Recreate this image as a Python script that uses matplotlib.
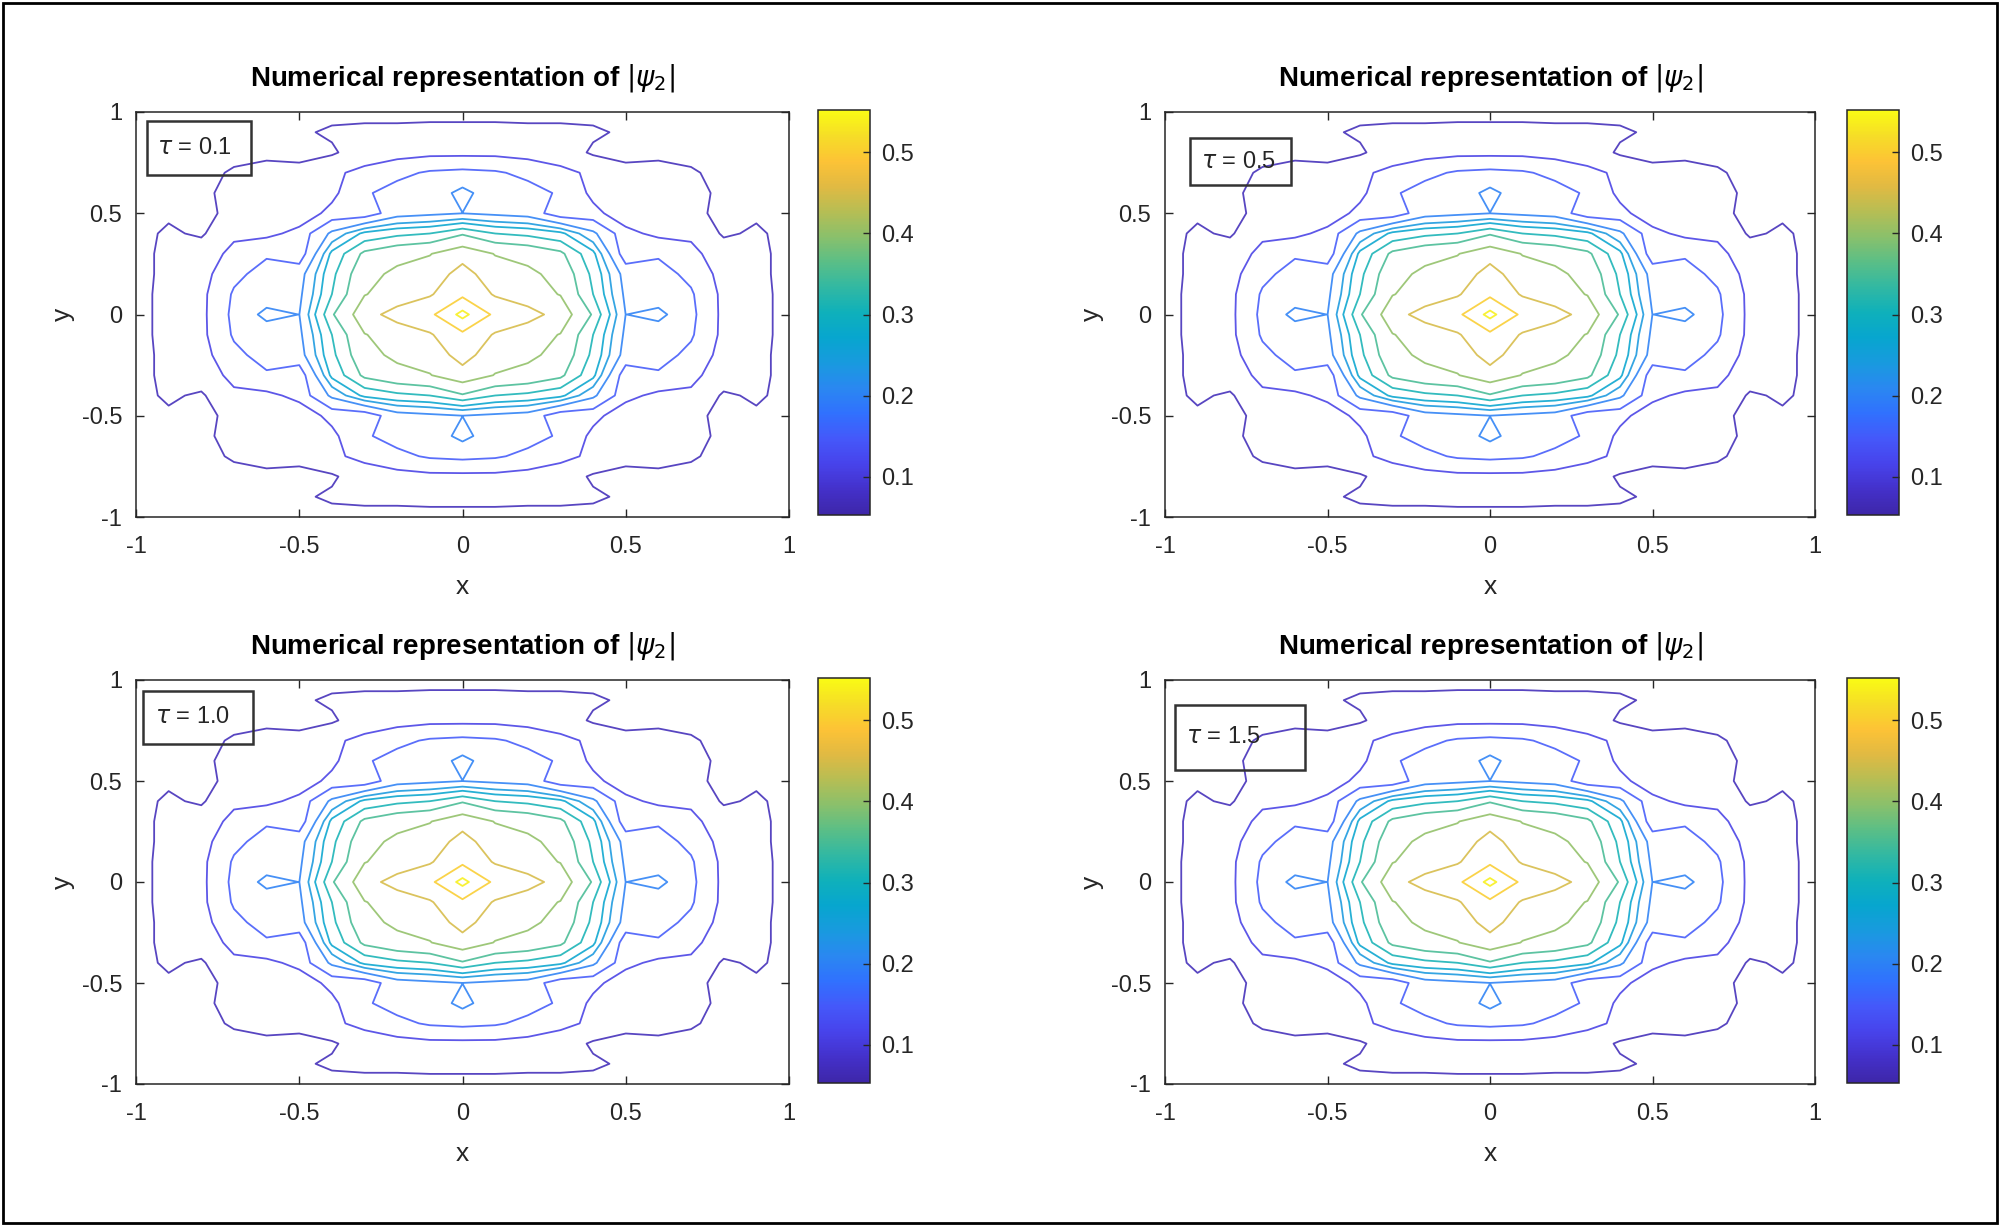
import numpy as np
import matplotlib
matplotlib.use("Agg")
import matplotlib.pyplot as plt
from matplotlib.colors import LinearSegmentedColormap, Normalize
from matplotlib.patches import Rectangle
import matplotlib.cm as cm

# ---------------- data ----------------
# grid nodes of one quadrant (x >= 0, y >= 0); the field is mirrored to the others
GRID = [0.0, 0.1, 0.2, 0.3, 0.4, 0.5, 0.6, 0.7, 0.8, 0.9, 1.0]

PSI_QUARTER = [
    [0.552, 0.491, 0.470, 0.430, 0.345, 0.1995, 0.215, 0.160, 0.100, 0.080, 0.060],
    [0.491, 0.445, 0.420, 0.398, 0.310, 0.190, 0.170, 0.155, 0.100, 0.080, 0.060],
    [0.470, 0.420, 0.410, 0.385, 0.300, 0.180, 0.165, 0.140, 0.095, 0.078, 0.060],
    [0.430, 0.398, 0.385, 0.360, 0.280, 0.120, 0.145, 0.120, 0.090, 0.078, 0.060],
    [0.345, 0.310, 0.300, 0.280, 0.210, 0.120, 0.101, 0.103, 0.065, 0.075, 0.060],
    [0.1995, 0.190, 0.180, 0.120, 0.120, 0.090, 0.088, 0.080, 0.060, 0.065, 0.055],
    [0.215, 0.170, 0.165, 0.145, 0.101, 0.088, 0.080, 0.085, 0.060, 0.060, 0.055],
    [0.160, 0.155, 0.140, 0.120, 0.103, 0.080, 0.085, 0.074, 0.060, 0.055, 0.053],
    [0.100, 0.100, 0.095, 0.090, 0.065, 0.060, 0.060, 0.060, 0.055, 0.053, 0.053],
    [0.080, 0.080, 0.078, 0.078, 0.075, 0.065, 0.060, 0.055, 0.053, 0.053, 0.053],
    [0.060, 0.060, 0.060, 0.060, 0.060, 0.055, 0.055, 0.053, 0.053, 0.053, 0.053],
]

LEVELS = [0.07, 0.11, 0.15, 0.20, 0.24, 0.27, 0.31, 0.35, 0.40, 0.45, 0.50, 0.54]
COLOR_LIMITS = (0.053, 0.552)
TAUS = ["0.1", "0.5", "1.0", "1.5"]
AXIS_TICKS = [-1, -0.5, 0, 0.5, 1]
AXIS_TICK_LABELS = ["-1", "-0.5", "0", "0.5", "1"]
CBAR_TICKS = [0.1, 0.2, 0.3, 0.4, 0.5]
CBAR_TICK_LABELS = ["0.1", "0.2", "0.3", "0.4", "0.5"]
TITLE = r"Numerical representation of $|\psi_2|$"

# ---------------- style ----------------
PARULA = [
    (0.2422, 0.1504, 0.6603), (0.2647, 0.1910, 0.7930), (0.2804, 0.2627, 0.9227),
    (0.2681, 0.3456, 0.9786), (0.1906, 0.4420, 0.9959), (0.1647, 0.5316, 0.9446),
    (0.0968, 0.6048, 0.8734), (0.0279, 0.6497, 0.8112), (0.0579, 0.6919, 0.7323),
    (0.1926, 0.7219, 0.6380), (0.3544, 0.7468, 0.5273), (0.5399, 0.7528, 0.4210),
    (0.7141, 0.7438, 0.3288), (0.8821, 0.7275, 0.2603), (0.9914, 0.7640, 0.2120),
    (0.9636, 0.8674, 0.1516), (0.9769, 0.9839, 0.0805),
]
parula = LinearSegmentedColormap.from_list("parula", PARULA, N=256)
norm = Normalize(*COLOR_LIMITS)
TXT = (0.15, 0.15, 0.15)
plt.rcParams["font.family"] = ["Liberation Sans", "DejaVu Sans"]
plt.rcParams["mathtext.fontset"] = "dejavusans"

# ---------------- build field ----------------
q = np.array(PSI_QUARTER)
g = np.array(GRID)
coords = np.concatenate([-g[:0:-1], g])
Z = np.vstack([q[:0:-1], q])
Z = np.hstack([Z[:, :0:-1], Z])

W, H = 2000, 1226
fig = plt.figure(figsize=(W / 100, H / 100), dpi=100)

def fx(px):
    return px / W

def fy(py):
    return 1 - py / H

# axes pixel boxes: (left, top, right, bottom)
AX_BOX = [(136, 112, 789, 517), (1165, 112, 1815, 517),
          (136, 680, 789, 1084), (1165, 680, 1815, 1084)]
CB_BOX = [(818, 110, 870, 515), (1847, 110, 1899, 515),
          (818, 678, 870, 1083), (1847, 678, 1899, 1083)]
TAU_BOX = [(147, 121, 251, 175), (1190, 138, 1291, 185),
           (143, 691, 253, 744), (1175, 705, 1305, 770)]
TAU_TXT = [(157, 148), (1201, 162), (155, 717), (1186, 737)]

for k in range(4):
    l, t, r, b = AX_BOX[k]
    ax = fig.add_axes([fx(l), fy(b), fx(r - l), (b - t) / H])
    ax.contour(coords, coords, Z, levels=LEVELS, cmap=parula, norm=norm,
               linewidths=1.3, alpha=0.88)
    ax.set_xlim(-1, 1)
    ax.set_ylim(-1, 1)
    ax.set_xticks(AXIS_TICKS)
    ax.set_xticklabels(AXIS_TICK_LABELS)
    ax.set_yticks(AXIS_TICKS)
    ax.set_yticklabels(AXIS_TICK_LABELS)
    ax.tick_params(direction="in", top=True, right=True, length=6, width=1.0,
                   labelsize=17, colors=TXT)
    ax.tick_params(axis="x", pad=14)
    ax.tick_params(axis="y", pad=10)
    for s in ax.spines.values():
        s.set_color(TXT)
        s.set_linewidth(1.1)
    ax.set_xlabel("x", fontsize=19, color=TXT, labelpad=12)
    ax.set_ylabel("y", fontsize=19, color=TXT, labelpad=5)
    ax.set_title(TITLE, fontsize=20, fontweight="bold", color="black", pad=19)

    l, t, r, b = CB_BOX[k]
    cax = fig.add_axes([fx(l), fy(b), fx(r - l), (b - t) / H])
    cb = fig.colorbar(cm.ScalarMappable(norm=norm, cmap=parula), cax=cax,
                      ticks=CBAR_TICKS)
    cb.set_ticklabels(CBAR_TICK_LABELS)
    cax.tick_params(direction="in", length=5, width=1.0, labelsize=17,
                    colors=TXT, pad=8)
    cb.outline.set_edgecolor(TXT)
    cb.outline.set_linewidth(1.1)

    l, t, r, b = TAU_BOX[k]
    fig.patches.append(Rectangle((fx(l), fy(b)), fx(r - l), (b - t) / H,
                                 transform=fig.transFigure, fill=False,
                                 edgecolor=(0.2, 0.2, 0.2), linewidth=1.8))
    tx, ty = TAU_TXT[k]
    fig.text(fx(tx), fy(ty), r"$\tau$ = " + TAUS[k], fontsize=17, color=TXT,
             ha="left", va="center")

fig.patches.append(Rectangle((0.0015, 0.0025), 0.997, 0.995,
                             transform=fig.transFigure, fill=False,
                             edgecolor="black", linewidth=2.0))

fig.savefig("out.png", dpi=100, facecolor="white")
